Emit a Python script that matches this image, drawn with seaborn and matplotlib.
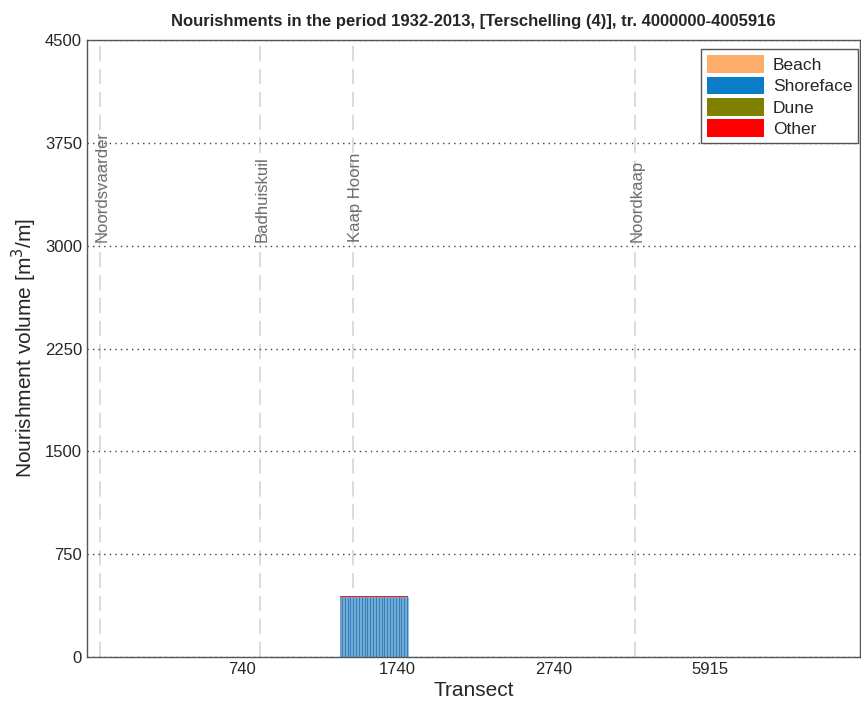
import matplotlib
matplotlib.use("Agg")
import matplotlib.pyplot as plt
import matplotlib.patches as mpatches
import pandas as pd
import seaborn as sns

# transect positions (ordinal index along the coast) and nourished volumes
transect_idx = list(range(164, 208))
shoreface = [440, 440, 440, 440, 440, 440, 440, 440, 440, 440, 440,
             440, 440, 440, 440, 440, 440, 440, 440, 440, 440, 440,
             440, 440, 440, 440, 440, 440, 440, 440, 440, 440, 440,
             440, 440, 440, 440, 440, 440, 440, 440, 440, 440, 440]
other = [6, 6, 6, 6, 6, 6, 6, 6, 6, 6, 6,
         6, 6, 6, 6, 6, 6, 6, 6, 6, 6, 6,
         6, 6, 6, 6, 6, 6, 6, 6, 6, 6, 6,
         6, 6, 6, 6, 6, 6, 6, 6, 6, 6, 6]
n_transects = 500

tick_pos = [100, 201, 302, 403]
tick_labels = ["740", "1740", "2740", "5915"]
y_ticks = [0, 750, 1500, 2250, 3000, 3750, 4500]

landmarks = ["Noordsvaarder", "Badhuiskuil", "Kaap Hoorn", "Noordkaap"]
landmark_pos = [8.5, 112, 172, 354.5]

categories = ["Beach", "Shoreface", "Dune", "Other"]
cat_colors = ["#fdae6b", "#0a7cc8", "#808000", "#ff0000"]

df = pd.DataFrame({"transect": transect_idx, "shoreface": shoreface, "other": other})
df["total"] = df["shoreface"] + df["other"]

sns.set_style("white")
plt.rcParams["font.family"] = ["Liberation Sans", "DejaVu Sans"]

fig = plt.figure(figsize=(8.61, 7.08), dpi=100)
ax = fig.add_axes([0.101, 0.072, 0.8978, 0.8715])

# stacked bars: total (red "other" on top) then shoreface drawn over it
sns.barplot(data=df, x="transect", y="total", native_scale=True, width=1,
            color=cat_colors[3], edgecolor="none", ax=ax)
sns.barplot(data=df, x="transect", y="shoreface", native_scale=True, width=1,
            color="#1586d2", edgecolor="#8cc6ee", linewidth=0.4, ax=ax)

# landmarks
for name, pos in zip(landmarks, landmark_pos):
    ax.axvline(pos, color="#d2d2d2", linestyle=(0, (10, 5)), linewidth=1.1, zorder=0)
    ax.text(pos + 1.5, 3030, name, rotation=90, ha="center", va="bottom",
            fontsize=12, color="#6e6e6e")

ax.set_xlim(0, n_transects)
ax.set_ylim(0, 4500)
ax.set_xticks(tick_pos)
ax.set_xticklabels(tick_labels)
ax.set_yticks(y_ticks)
ax.yaxis.grid(True, linestyle=(0, (1, 3)), color="#404040", linewidth=1)
ax.xaxis.grid(False)
ax.set_axisbelow(True)
ax.tick_params(direction="in", length=5, labelsize=12, color="#555555")
for s in ax.spines.values():
    s.set_color("#555555")
    s.set_linewidth(1.0)

ax.set_xlabel("Transect", fontsize=15, labelpad=3)
ax.set_ylabel("Nourishment volume [m$^3$/m]", fontsize=15)
ax.set_title("Nourishments in the period 1932-2013, [Terschelling (4)], tr. 4000000-4005916",
             fontsize=12, fontweight="bold", pad=10)

handles = [mpatches.Patch(facecolor=c, edgecolor="none", label=l)
           for l, c in zip(categories, cat_colors)]
leg = ax.legend(handles=handles, loc="upper right", bbox_to_anchor=(0.998, 0.985),
                fontsize=12.5, fancybox=False, framealpha=1, edgecolor="#555555",
                handlelength=3.3, handleheight=1.2, handletextpad=0.5,
                labelspacing=0.2, borderaxespad=0.0, borderpad=0.35)
leg.get_frame().set_linewidth(1.0)

fig.savefig("out.png", dpi=100)
